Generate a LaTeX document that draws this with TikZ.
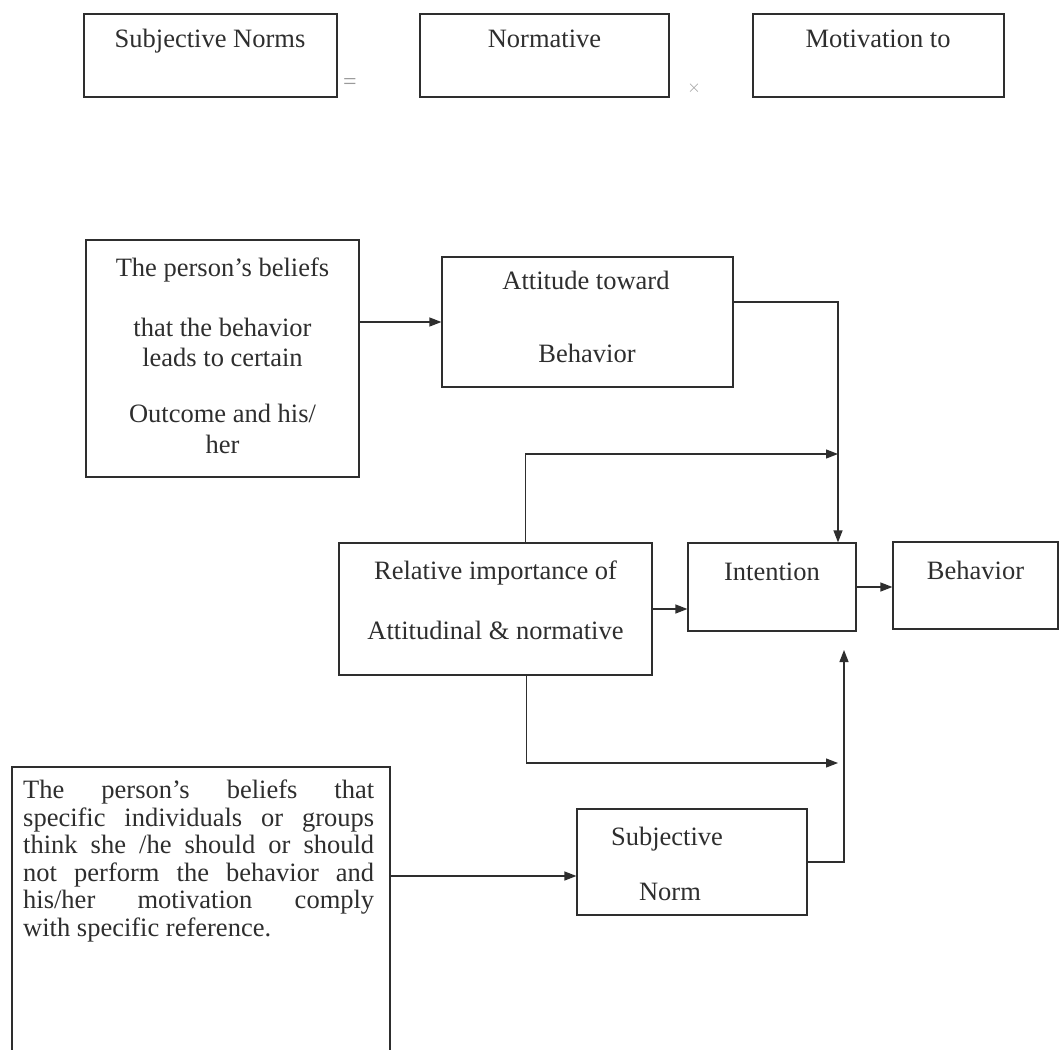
\documentclass[tikz,border=0pt]{standalone}
\usepackage{fontspec}
\setmainfont{Liberation Serif}
\usetikzlibrary{arrows.meta}
\definecolor{ink}{HTML}{2E2E2E}
\definecolor{faint}{HTML}{9A9A9A}
\begin{document}
\begin{tikzpicture}[x=1pt,y=-1pt,
  box/.style={draw=ink, line width=1.2pt, rectangle, inner sep=0pt},
  txt/.style={text=ink, font=\fontsize{26.5}{30}\selectfont, anchor=base, inner sep=0pt},
  arr/.style={draw=ink, line width=1.2pt, -{Triangle[length=12pt,width=9pt]}},
  op/.style={text=faint, inner sep=0pt}]
\useasboundingbox (0,0) rectangle (1059,1049);
\fill[white] (0,0) rectangle (1059,1049);

% top row: the formula
\node[box, minimum width=253pt, minimum height=83pt] (sn) at (210.5,55.5) {};
\node[box, minimum width=249pt, minimum height=83pt] (nb) at (544.5,55.5) {};
\node[box, minimum width=251pt, minimum height=83pt] (mc) at (878.5,55.5) {};
\node[txt] (snT) at (210,48) {Subjective Norms};
\node[txt] (nbT) at (544.5,48) {Normative};
\node[txt] (mcT) at (878,48) {Motivation to};
\node[op, font=\fontsize{24}{26}\selectfont] (eq) at (350,84) {=};
\node[op, font=\fontsize{16}{18}\selectfont] (times) at (694,88) {$\times$};

% model boxes
\node[box, minimum width=273pt, minimum height=237pt] (beliefs) at (222.5,358.5) {};
\node[box, minimum width=291pt, minimum height=130pt] (attitude) at (587.5,322) {};
\node[box, minimum width=313pt, minimum height=132pt] (relative) at (495.5,609) {};
\node[box, minimum width=168pt, minimum height=88pt] (intention) at (772,587) {};
\node[box, minimum width=165pt, minimum height=87pt] (behavior) at (975.5,585.5) {};
\node[box, minimum width=230pt, minimum height=106pt] (snorm) at (692,862) {};
\node[box, minimum width=378pt, minimum height=300pt] (refs) at (201,917) {};

% box texts
\node[txt] (b1) at (222.5,276) {The person’s beliefs};
\node[txt] (b2) at (222.5,336) {that the behavior};
\node[txt] (b3) at (222.5,366) {leads to certain};
\node[txt] (b4) at (222.5,422) {Outcome and his/};
\node[txt] (b5) at (222.5,453) {her};
\node[txt] (a1) at (586,289) {Attitude toward};
\node[txt] (a2) at (587,362) {Behavior};
\node[txt] (r1) at (495.5,579) {Relative importance of};
\node[txt] (r2) at (495.5,639) {Attitudinal \& normative};
\node[txt] (iT) at (772,580) {Intention};
\node[txt] (bT) at (975.5,579) {Behavior};
\node[txt] (s1) at (667,845) {Subjective};
\node[txt] (s2) at (670,900) {Norm};
\node[text=ink, font=\fontsize{26.5}{27.5}\selectfont, inner sep=0pt,
      anchor=north west, text width=351pt, align=justify] (refT) at (23,780)
  {The person’s beliefs that\linebreak
   specific individuals or groups\linebreak
   think she /he should or should\linebreak
   not perform the behavior and\linebreak
   his/her motivation comply\linebreak
   with specific reference.};

% junction points on the vertical feeders and the entry into the norm box
\coordinate (jtop) at (838,454);
\coordinate (jbot) at (838,763);
\coordinate (jup) at (844,650);
\coordinate (snin) at ([yshift=-14pt]snorm.west);

% connectors
\draw[arr] (beliefs.east |- attitude.west) -- (attitude.west);
\draw[arr] ([yshift=20pt]attitude.east) -| ([xshift=66pt]intention.north);
\draw[arr] ([xshift=30pt]relative.north) |- (jtop);
\draw[arr] ([xshift=31pt]relative.south) |- (jbot);
\draw[arr] (relative.east) -- (intention.west |- relative.east);
\draw[arr] (intention.east) -- (behavior.west |- intention.east);
\draw[arr] (snorm.east) -| (jup);
\draw[arr] (refs.east |- snin) -- (snin);
\end{tikzpicture}
\end{document}
